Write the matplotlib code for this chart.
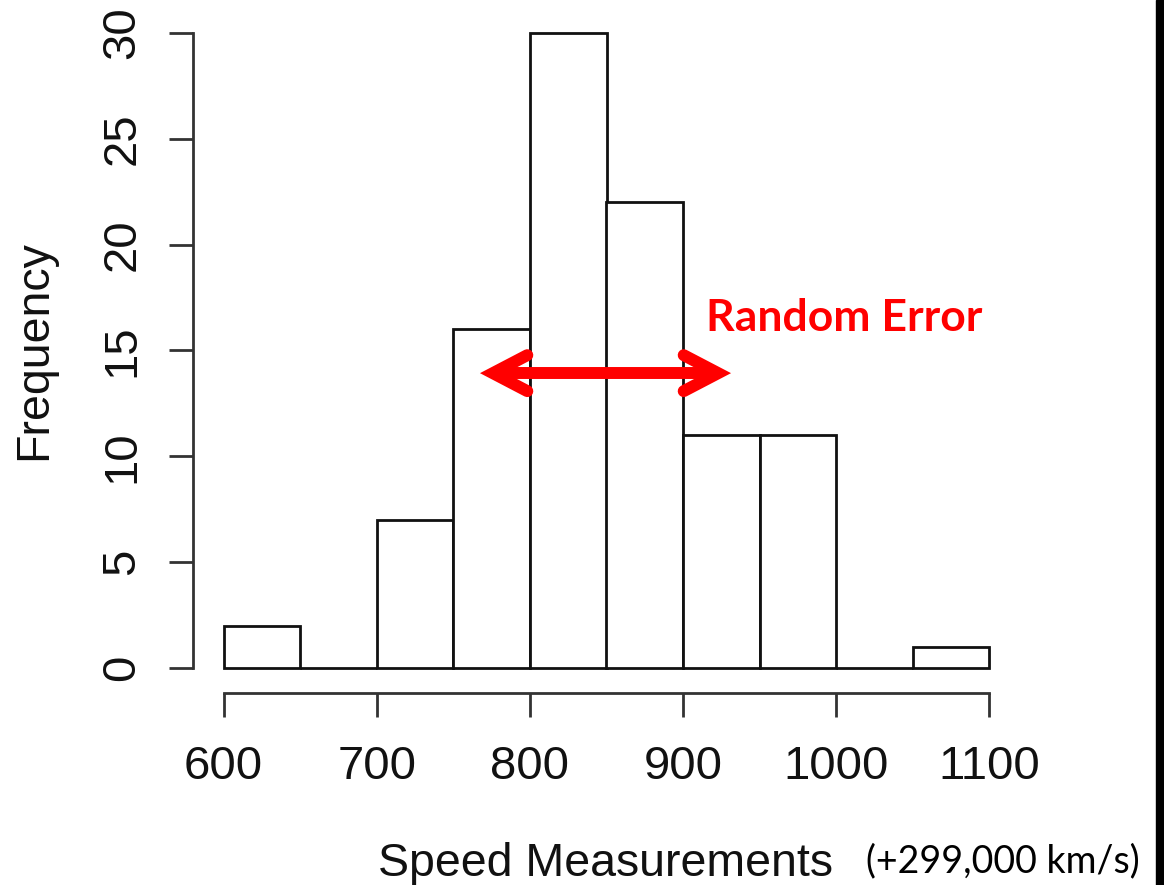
import matplotlib
matplotlib.use("Agg")
import matplotlib.pyplot as plt
from matplotlib.patches import Rectangle

# Histogram of speed-of-light measurements (offset from 299,000 km/s)
bin_edges = [600, 650, 700, 750, 800, 850, 900, 950, 1000, 1050, 1100]
counts = [2, 0, 7, 16, 30, 22, 11, 11, 0, 1]
x_ticks = [600, 700, 800, 900, 1000, 1100]
y_ticks = [0, 5, 10, 15, 20, 25, 30]

# Double-headed arrow marking the spread
arrow_left, arrow_right, arrow_y = 775.8, 922.9, 13.93
head_dx, head_dy = 22.5, 0.85

plt.rcParams['font.family'] = ['Liberation Sans', 'DejaVu Sans']

fig = plt.figure(figsize=(11.64, 8.85), dpi=100)
ax = fig.add_axes([193 / 1164, 1 - 693.4 / 885, 827 / 1164, 685.8 / 885])

widths = [b - a for a, b in zip(bin_edges[:-1], bin_edges[1:])]
ax.bar(bin_edges[:-1], counts, width=widths, align='edge',
       facecolor='white', edgecolor='#111111', linewidth=2.0)

ax.set_xlim(580, 1120)
ax.set_ylim(-1.2, 31.2)

for side in ('top', 'right'):
    ax.spines[side].set_visible(False)
ax.spines['left'].set_bounds(0, 30)
ax.spines['bottom'].set_bounds(600, 1100)
for side in ('left', 'bottom'):
    ax.spines[side].set_linewidth(2.0)
    ax.spines[side].set_color('#333333')

ax.set_xticks(x_ticks)
ax.set_yticks(y_ticks)
ax.tick_params(axis='both', length=17, width=2.0, color='#333333',
               labelsize=34, labelcolor='#111111')
ax.tick_params(axis='x', pad=20)
ax.tick_params(axis='y', pad=18, labelrotation=90)
for lab in ax.get_yticklabels():
    lab.set_va('center')

ax.set_ylabel('Frequency', fontsize=33.5, color='#111111', labelpad=32)

# Arrow: shaft plus two chevron heads
red = '#ff0000'
lw = 8.6
ax.plot([arrow_left, arrow_right], [arrow_y, arrow_y], color=red, lw=lw,
        solid_capstyle='butt')
ax.plot([arrow_left + head_dx, arrow_left, arrow_left + head_dx],
        [arrow_y + head_dy, arrow_y, arrow_y - head_dy], color=red, lw=lw,
        solid_capstyle='round', solid_joinstyle='miter')
ax.plot([arrow_right - head_dx, arrow_right, arrow_right - head_dx],
        [arrow_y + head_dy, arrow_y, arrow_y - head_dy], color=red, lw=lw,
        solid_capstyle='round', solid_joinstyle='miter')

fig.text(706 / 1164, 1 - 318 / 885, 'Random Error', color=red,
         fontsize=32, fontweight='bold', family=['Lato', 'DejaVu Sans'],
         ha='left', va='center')

fig.text(606 / 1164, 1 - 876 / 885, 'Speed Measurements', fontsize=33.5,
         color='#111111', ha='center', va='baseline')
fig.text(866 / 1164, 1 - 872 / 885, '(+299,000 km/s)', fontsize=27,
         color='black', family=['Lato', 'DejaVu Sans'],
         ha='left', va='baseline')

# Dark strip along the right edge
fig.patches.append(Rectangle((1156 / 1164, 0), 8 / 1164, 1,
                             transform=fig.transFigure, color='black',
                             zorder=10))

fig.savefig('out.png', dpi=100)
